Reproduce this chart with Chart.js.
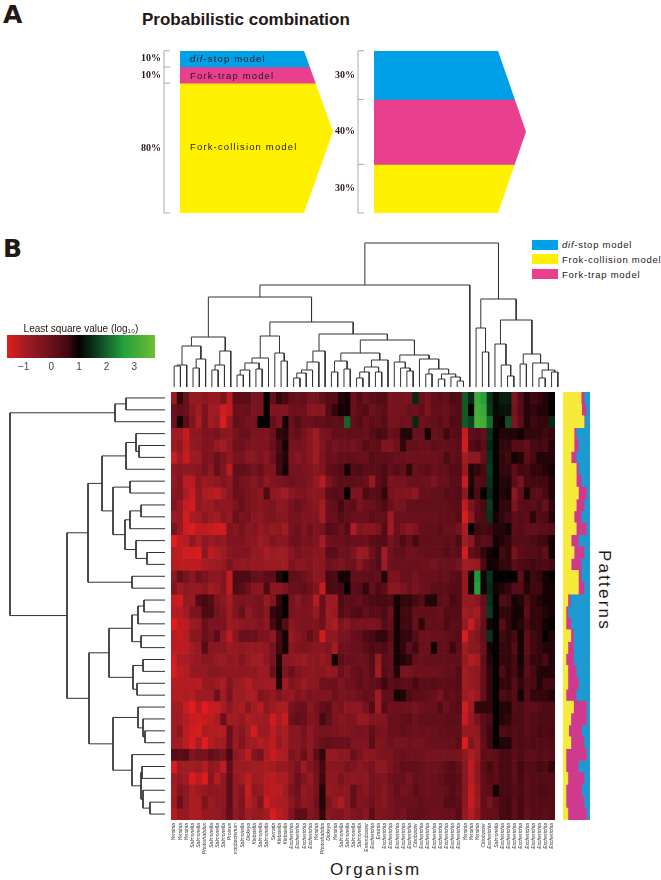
<!DOCTYPE html>
<html>
<head>
<meta charset="utf-8">
<script src="https://cdn.jsdelivr.net/npm/chart.js@4/dist/chart.umd.min.js"></script>
<style>
  html, body { margin: 0; padding: 0; background: #fff; }
  body { position: relative; width: 661px; height: 880px; overflow: hidden; font-family: "Liberation Sans", sans-serif; color: #231815; }
  canvas { position: absolute; }
  #heat { filter: blur(.4px); }
  .txt { position: absolute; white-space: nowrap; line-height: 1; }
  .model { font-size: 9.5px; letter-spacing: 1.15px; }
  .key { font-size: 9.5px; letter-spacing: .75px; }
  .swatch { position: absolute; left: 532px; width: 26px; height: 10px; }
</style>
</head>
<body>
<div class="txt" style="left:3px;top:0px;font:bold 25px 'DejaVu Sans'">A</div>
<div class="txt" style="left:3px;top:234px;font:bold 25px 'DejaVu Sans'">B</div>
<div class="txt" style="left:142px;top:11px;font-weight:bold;font-size:17px">Probabilistic combination</div>

<canvas id="shapeLeft" width="195" height="175" style="left:140px;top:45px"></canvas>
<canvas id="shapeRight" width="193" height="175" style="left:335px;top:45px"></canvas>
<div class="txt model" style="left:190px;top:54px"><i>dif</i>-stop model</div>
<div class="txt model" style="left:190px;top:71px">Fork-trap model</div>
<div class="txt model" style="left:190px;top:142px">Fork-collision model</div>

<div class="swatch" style="top:240px;background:#00A0E9"></div>
<div class="swatch" style="top:254px;background:#FFF100"></div>
<div class="swatch" style="top:269px;background:#E83F8F"></div>
<div class="txt key" style="left:562px;top:240px"><i>dif</i>-stop model</div>
<div class="txt key" style="left:562px;top:255px">Frok-collision model</div>
<div class="txt key" style="left:562px;top:270px">Fork-trap model</div>

<canvas id="colorbar" width="170" height="60" style="left:0;top:320px"></canvas>
<canvas id="topTree" width="390" height="147" style="left:171px;top:240px"></canvas>
<canvas id="leftTree" width="165" height="428" style="left:0;top:392px"></canvas>
<canvas id="heat" width="390" height="462" style="left:171px;top:392px"></canvas>
<canvas id="patterns" width="27" height="428" style="left:563px;top:392px"></canvas>

<div class="txt" style="left:330px;top:861px;font-size:17px;letter-spacing:2.2px">Organism</div>
<div class="txt" style="left:613px;top:550px;font-size:17px;letter-spacing:2.2px;transform-origin:0 0;transform:rotate(90deg)">Patterns</div>

<script>
// panel A
const modelNames = ["dif-stop model", "Fork-trap model", "Fork-collision model"];
const sharesLeft = [10, 10, 80];
const sharesRight = [30, 40, 30];

// panel B, columns
const organisms = ["Yersinia","Yersinia","Yersinia","Salmonella","Salmonella","Photorhabdus","Salmonella","Salmonella","Salmonella","Proteus",
  "Pectobacterium","Salmonella","Dickeya","Klebsiella","Salmonella","Salmonella","Serratia","Klebsiella","Klebsiella","Escherichia",
  "Escherichia","Escherichia","Escherichia","Yersinia","Photorhabdus","Dickeya","Yersinia","Salmonella","Salmonella","Salmonella",
  "Salmonella","Enterobacter","Escherichia","Erwinia","Escherichia","Escherichia","Escherichia","Escherichia","Escherichia","Citrobacter",
  "Escherichia","Escherichia","Escherichia","Escherichia","Escherichia","Escherichia","Escherichia","Yersinia","Yersinia","Yersinia",
  "Citrobacter","Escherichia","Salmonella","Escherichia","Escherichia","Escherichia","Escherichia","Escherichia","Escherichia","Escherichia",
  "Escherichia","Escherichia"];

// least square values, first 33 columns
const heatLeft = [
[-.8,.7,0,-.7,-.7,-.6,-.7,-.7,-.3,-1.1,.2,.2,.2,-.3,-.2,1,.1,.7,.5,.1,0,.1,-.2,-.2,.1,.3,.3,.8,.9,0,.3,0,.2],
[0,.1,0,-.5,-.9,-.3,-.9,-.9,-1.4,-1.2,0,-.1,0,-.3,-.2,1,-.4,-.4,-.4,-.1,-.1,-.1,-.5,-.5,-.5,.3,.7,.9,.9,0,.2,.3,-.1],
[-.1,.9,.2,-.4,-1,-.2,-.9,-.7,-1.5,-.7,.1,0,-.2,-.2,1,1,.1,-.3,.9,0,.3,0,0,.1,.1,.2,.1,.2,2,.1,.3,0,.2],
[-.9,-.9,-1.3,-.6,-.6,-.4,-.4,-.2,-.5,-.6,-.2,0,0,-.3,-.3,-.4,0,.7,.8,-.1,.1,-.2,-.5,-.8,-.3,-.2,.1,.1,.1,.1,.1,0,.3],
[-.8,-.6,-1.2,-.7,-.6,-.4,-.4,-.7,-.9,-.6,-.1,-.1,-.3,-.4,-.4,-.3,0,.5,.9,-.2,-.2,-.3,-.5,-.8,-.4,0,-.2,-.1,-.1,-.2,0,.3,.1],
[-1.4,-.8,-1.3,-.8,-.8,-.3,-.4,0,-.3,-.6,-.3,-.2,-.5,-.5,-.3,-.5,-.1,.6,.8,-.3,-.5,-.3,-.5,-.9,-.3,0,-.1,.1,.1,.1,0,0,.3],
[-.6,-.5,-.6,-.6,-.5,-.2,-.6,.1,-.4,-1.1,.1,.1,0,-.2,0,-.4,-.4,.6,.9,-.2,-.2,-.3,-.4,-.5,-.4,.1,.2,.3,.9,.3,.4,.2,.2],
[-.7,-.4,-1.2,-1.1,-.5,-.8,-.7,-.6,-.4,-.6,0,-.2,-.3,-.5,-.2,-.6,-.4,-.3,-.2,-.1,-.2,-.2,-.4,-.7,-1.1,-.3,0,.2,.2,.2,.1,0,-.7],
[-.5,-.4,-1,-1.3,-.6,-1,-1.1,-1.2,-.9,-.5,0,-.1,-.3,-.4,-.5,.4,-.6,-.7,-.9,-.5,-.4,-.4,-.5,-.6,-.5,.2,.3,.2,1,-.3,-.3,.4,.2],
[-.4,-.7,-1.3,-1.4,-.6,-.8,-.8,-.5,-.6,-.6,-.3,0,-.3,-.4,-.5,-.4,-.3,-.6,-.5,-.2,0,-.2,-.4,-.5,-.9,0,.1,.5,.1,.2,-.3,-.1,0],
[-.8,-.7,-1.4,-1,-.9,-.6,-.8,-.9,-.5,-.7,0,-.3,-.2,-.5,-.6,-.4,-.3,-.5,-.5,-.2,-.2,-.4,-.4,-.4,-.9,0,0,.3,.1,0,0,0,.2],
[-.2,-.7,-1.4,-1.5,-1.2,-1.2,-1.3,-1.4,-1.4,-.4,-.5,-.2,-.5,-.4,-.7,-.5,-.7,-.6,-.9,-.2,-.1,-.4,-.1,-.4,-.2,.3,.2,0,.3,-1,-.4,-.5,-.5],
[-1.6,-1.2,-1.1,-.6,-1,-.6,-.8,-.6,-.7,-.4,-.4,-.4,-.5,-.5,-.8,-.7,-.4,-.5,-.5,-.1,-.1,-.3,-.2,-.4,-.9,-.1,0,0,.1,0,0,-.1,.2],
[-1.1,-1.2,-1.4,-1.4,-1.5,-.6,-1.2,-1,-.8,-.5,-.4,-.4,-.4,-.7,-.7,-1,-.8,-.9,-.8,-.5,-.2,-.4,-.4,-.5,-.5,.2,.2,-.1,0,-.3,-.8,-.7,-.1],
[-1.1,-1.2,-1.2,-1.2,-1.2,-1,-.9,-.8,-.7,-.3,-.6,-.7,-.6,-.7,-.7,-.8,-.8,-.8,-.9,-.3,-.5,-.5,-.4,-.6,-.5,-.1,-.2,-.3,-.1,-.1,-.5,-.1,.1],
[-.6,.1,-.2,-.5,-.1,-.3,-.5,-.6,-.4,-1.2,.4,.4,.4,.1,0,.2,.2,.8,1,.1,.1,-.1,-.3,-.6,-.5,.5,.4,.9,.9,.1,.1,.1,.2],
[-.4,-.8,-.6,-.7,-.7,-.5,-.9,-.7,-.4,-1.2,.4,.2,-.1,-.5,-.5,.4,-.5,-.5,-.3,0,0,.1,-.1,-.4,-1.3,.5,.4,.5,1,.2,.3,.7,.1],
[-1.3,-1.4,-.7,-.7,.3,.5,.3,-.3,-.5,-.9,-.4,-.3,-.4,-.3,-.2,-.7,-.4,.7,1,-.2,-.5,-.2,-.3,-1.1,0,-.8,-.8,.4,.2,.2,.1,.3,.4],
[-1.1,-1.1,-.9,-.3,-.3,.4,.4,-.2,-.4,-.8,-.4,0,-.6,-.3,-.2,-.5,.7,.8,1,-.2,-.4,-.3,-.4,-.7,0,-.9,-.7,.3,.1,.3,.4,.1,.3],
[-1.6,-1.2,-1.2,-.8,-.7,0,-.3,-.3,-.3,-.8,-.7,-.6,-.5,-.5,-.4,-.6,.5,.8,.3,-.5,-.4,-.3,-.3,-.4,-.1,-.8,-1,-.3,-.5,-.2,-.3,-.2,-.3],
[-1.1,-1.3,-1.1,-.5,-.5,0,-.2,.2,-.6,-1.2,-.5,0,0,0,-.3,-.3,-.6,.5,.9,-.7,-.5,-.3,.1,-.3,-1.4,-.6,-.6,-.3,-.2,0,.1,.4,.5],
[-1.2,-1.2,-1.2,-.9,-.7,.3,-.5,-.5,-.5,-.8,-.7,-.6,-.7,-.7,-.7,-.6,-.2,.6,.9,-.5,-.4,-.3,-.4,-.5,-.5,-.4,-.9,-.1,-.1,0,0,.2,.4],
[-1.4,-1,-1,-.8,-.7,-.5,-.5,-.7,-.8,-.6,-.7,-.4,-.7,-.9,-.9,-.6,-.2,.8,-.5,-.6,-.7,-.8,-.6,-.5,-.7,-.5,.9,.2,0,0,-.1,0,.3],
[-1.5,-1.2,-1.1,-.7,-.7,-.7,-.5,-.5,-.6,-.6,-.6,-.6,-.6,-.6,-.8,-.8,0,.9,-.4,0,-.4,-.5,-.6,-.5,-.5,-.7,-.6,0,-.3,0,.1,-.1,.2],
[-1.1,-1.1,-1.1,-1.1,-1.2,-.7,-.7,-.8,-1,-.4,-.8,-.9,-1.1,-.8,-.8,-.9,-.9,.8,-.9,-.4,-.5,-.8,-.6,-.5,-.1,-.1,-.1,-.4,-.1,-.1,.1,-.1,.1],
[-1.1,-1.1,-1,-1.1,-.8,-.8,-.8,-.1,-.9,-.3,-.9,-.8,-1,-1,-.4,-.5,-.7,-.4,-.6,-.7,-.4,-.5,-.3,-.4,-.4,-.4,-.1,-.3,-.2,-.2,-.1,.1,0],
[-.9,-.9,-1.3,-1.6,-1.1,-1.6,-1.3,-1.3,-1,-.6,-.9,-1,-.5,-.9,-1.1,-.6,-.8,-1,-1,-.2,-.1,0,-.5,-.2,.1,.2,-.4,-.2,-.6,-.6,-.6,-.2,.3],
[-.8,-.9,-1.1,-1.3,-1.4,-1.3,-1.2,-1,0,-.9,-.9,-.7,-1,-.9,-.9,-.8,-1.4,-1,-1.3,-.1,.1,0,-.4,-.3,.5,.1,-.3,-.5,-.4,-.4,-.7,-.7,-.4],
[-.9,-.5,-1.2,-1.4,-1.5,-1,-1.1,-1.1,-1.1,0,-.7,-.5,-.9,-1.4,-.8,-.8,-1.2,-.9,-1,-.5,-.5,-.2,-.6,-.3,-.2,-.2,-.3,-.4,-.4,-.3,-.2,-.3,.1],
[-.9,-.9,-1.2,-1.5,-1,-1.6,-1.1,-.9,-.9,0,-.8,-.4,-.8,-.9,-1.1,-1,-1.2,-.7,-1,-.5,-.5,-.3,-.6,-.2,0,.1,0,0,0,-.4,-.4,-.4,.2],
[.3,.2,.3,-.4,-.2,-.2,.1,-.1,-.2,.5,-.6,-.8,-1.2,-.4,-.2,-1,-1.3,-1.1,-1,-.3,-.5,0,-.6,.2,.7,-.7,-.7,-.5,-.6,0,-.3,-.6,-.5],
[-1.5,-.8,-.9,-.9,-.8,-1.1,-.6,-.7,-1.2,.1,-.8,-.8,-.8,-.9,-.9,-1,-.9,-.7,-.7,-.5,-.2,-.8,-.4,-.1,.5,-.5,-.5,-.5,-.2,-.4,-.5,-.4,-.2],
[-.9,-.7,-.9,-1.5,-1.2,-1.5,-.5,-1.1,-.6,.2,-.7,-.9,-1.2,-.8,-.9,-1.1,-1.2,-1,-1,-.5,0,-.4,-.7,-.2,.6,-.6,-.6,-.3,-.5,-.6,-.5,-.6,-.2],
[-1,-.4,-.6,-1,-.8,-.7,-.6,-.6,-.6,.2,-.7,-.4,-1.3,-.6,-.7,-1.1,-1.2,-1.2,-.9,-.3,-.1,-.7,-.5,-.2,.8,-.7,-.6,-.5,-.6,.1,-.3,-.5,-.2],
[-.9,0,-.6,-1,-1,-.3,-.8,-.6,-.6,.2,-.7,-.3,-1.2,-.9,-.3,-1.4,-1.1,-1,-1,-.6,-.2,-.6,-.5,-.1,.8,-.3,-.7,-1,-.5,.1,-.4,-.3,-.1],
[-1.1,-.7,-.7,-1,-1,-.7,-.7,-.7,-.5,.1,-.6,-.4,-.9,-.7,-.7,-.9,-1.5,-1.2,-1,-.4,.2,.2,-.4,-.2,.7,-.5,-.4,-.4,-.6,-.4,-.3,-.5,.2]
];

// last 29 columns
const heatRight = [
[.3,.3,-.3,-.2,-.2,-.2,1.4,0,-.2,.1,.2,.1,.4,.3,1.9,1.4,3,2.6,1.5,1.1,1.3,1.3,-.3,.3,.8,.6,.7,.8,1],
[.1,.2,-.3,-.2,-.2,0,-.1,.1,-.3,.1,.1,0,.2,.3,1.9,1,3.1,2.9,1.6,1.1,1.2,1.2,-.2,.3,.8,.7,.8,.8,1],
[.1,.3,-.2,-.2,-.1,-.1,1.4,-.1,0,.1,.2,0,.4,.3,1.9,1.7,3.2,3.1,2.1,.9,1,1.8,-.3,.2,.8,.6,.7,.7,1.4],
[.5,.4,0,.1,.8,.8,0,0,.9,0,.1,.6,.2,.3,-1.3,.2,.3,.1,1.5,1,.8,.8,.8,.9,.7,.7,.7,.6,.7],
[.2,-.4,-.4,-.1,.7,.1,.1,0,0,.2,.1,.1,.1,.2,-1.4,.3,.5,.2,1.4,1,.7,.7,.3,.3,.1,.5,.6,.5,.8],
[.2,.2,.1,0,0,-.1,-.1,-.1,-.1,-.1,0,.4,.1,.2,-.9,-.6,-.6,.1,1.5,1,.7,.6,.9,.8,.2,.5,.8,.8,.8],
[.2,.4,.1,.3,.1,.7,0,.1,.2,0,.1,.1,.3,.3,-.7,.8,.7,.5,1.6,1,.7,.7,.2,.6,.5,.7,.7,.8,.9],
[.2,.4,-.3,-.2,-.2,0,0,-.1,-.1,-.3,0,0,.2,.2,-1.3,.8,.3,.4,1.5,1,.8,.8,.2,-.2,.5,.6,.6,.6,.8],
[.3,.7,-.2,-.4,-.4,-.4,-.6,0,0,.1,.1,.3,.2,.3,-.6,.9,.4,1,1.4,1,.8,.9,-.5,.1,.9,.3,.2,.5,.8],
[.2,.4,0,-.3,-.2,.1,.1,.1,.1,.1,.1,.1,.2,.2,-1.2,-.3,.2,.5,1.6,1,.7,.7,-.3,.2,.3,.2,.4,0,.7],
[.1,.1,-.8,0,0,0,0,0,0,0,.1,.1,.1,.3,-1.5,-.6,.3,.4,1.5,.9,.7,.6,.2,.3,.2,.7,.3,.4,.8],
[-.3,.3,-.9,0,-.3,-.5,-.4,0,.1,.1,.2,0,0,-.2,-1,1,.6,.5,.6,.8,.8,.9,.2,.3,.1,.1,.2,.2,.3],
[.3,.3,-.2,0,.4,.1,.5,.1,.1,.1,.1,.2,.1,.4,-.9,-.5,.4,.2,.3,.9,.8,.7,.3,.3,.3,.4,.6,.6,.9],
[.3,-.9,-.1,.1,.1,-.1,-.1,0,.1,.1,.1,.3,.1,.2,-1.4,.1,.3,.7,.9,1,.6,.7,-.2,.2,.3,.3,.4,.1,.9],
[.3,-.8,-.1,0,0,0,0,-.1,-.1,-.2,0,0,0,-.2,-.9,-.8,-.7,.5,.9,.9,.7,.7,.2,.4,.5,.6,.5,.4,.6],
[.1,.8,-.3,-.3,0,0,-.2,0,0,0,.1,0,.2,.3,-.7,.9,2.5,.9,1.5,1,1,1,1,.2,.9,.6,.7,.9,1],
[.4,.2,-.5,-.5,-.3,-.1,-.3,-.1,0,.2,.2,.2,.3,.3,-.7,.9,2.6,.9,1.4,.9,.8,.7,.3,.3,.8,.6,.6,.9,.9],
[.5,.5,.4,.9,.7,.7,.5,.3,.8,.8,.2,.1,.5,.3,-.7,-.7,-.5,.1,1.5,1,.4,.5,.9,.8,.4,.7,.8,.9,.9],
[.2,.4,0,.9,.6,.6,.1,.1,.1,.1,0,.3,.3,.3,-.9,-.7,-.9,0,1.6,1,.7,.7,.9,.9,.2,.7,.7,.8,.9],
[-.2,.3,.1,.9,.6,.6,0,.7,.1,.1,.1,.4,.2,.2,-.7,-1.3,-.6,.1,.9,1,.3,.7,.9,.8,.5,.7,.7,.9,1],
[.7,.7,.3,.9,.7,.7,.3,-.1,-.1,0,0,.1,.2,.3,-1.5,-.6,-.4,.1,1.5,1,.6,.7,.5,.9,.2,.6,.7,1,.8],
[.3,.4,.1,.9,.7,.2,.6,0,-.1,.9,.1,.1,.6,.2,-.9,-.5,-.5,0,.9,1,.7,.7,.3,.9,.2,.6,.7,.8,.8],
[-.7,.2,.1,.9,.8,.7,.1,0,.1,.1,.1,.1,.1,.1,-.7,-1.1,-.9,.1,.8,1,.7,.7,.5,.9,.3,.7,.7,.5,.8],
[-.9,.3,.1,.8,-.2,-.2,-.1,-.1,-.1,-.1,0,.1,.1,.3,-.9,-.7,-.6,.1,.7,1,.4,.7,.5,.8,.2,.5,.8,.8,.8],
[.2,.6,.2,.3,.2,.2,.5,.2,.2,.3,.2,.2,.2,.3,-.9,-.7,-.6,.1,.7,1,.7,.7,.3,.7,.4,.5,.8,.6,.6],
[-.8,.1,.1,.9,.8,.4,.2,.2,.1,0,-.2,.2,.1,.2,-.8,-1,-.7,.1,.7,1,.4,.6,.3,.9,.3,.7,.7,.7,.8],
[-.9,.3,-.1,-.1,-.1,-.1,-.2,-.1,0,0,.3,-.1,.2,.3,-1.4,-.8,.7,.7,.7,1,.8,.8,.3,.4,.2,.2,.3,.4,.4],
[-.4,-.4,0,0,.1,.2,-.1,.1,.1,.1,.1,.2,.2,.1,-1.3,-.7,-.2,.2,.4,1,.8,.7,.4,.4,.2,.3,.4,.4,.4],
[-.2,-.3,0,0,.1,0,-.1,0,-.1,0,.1,.1,.1,.1,-.7,-.7,-.6,.2,.6,1,.4,.5,.3,.4,.2,.3,.5,.4,.5],
[-.4,-.3,-.1,-.2,-.2,-.1,-.2,-.2,-.1,0,0,0,0,.2,-1.5,-.4,-.7,.1,.6,1,.8,.8,.3,.4,.3,.4,.3,.3,.4],
[-.4,-.3,-.3,-.1,0,-.1,-.1,-.1,-.2,-.2,-.2,-.2,-.2,-.3,-.6,-1,-.7,.2,.1,.2,.5,.5,.2,.4,.2,.2,.3,.2,.3],
[-.6,-.6,-.3,-.1,.1,.1,.1,0,-.1,-.1,0,.2,.3,.1,-.5,-1.2,-.6,.2,.5,.2,.5,.5,.2,.6,.3,.3,.5,.4,.7],
[-.3,-.4,-.1,0,0,-.2,.1,0,-.1,0,.1,.3,.3,.2,-.5,-1.1,-.6,.1,.3,.2,.5,.5,.2,.5,.2,.3,.3,.3,.3],
[-.3,-.5,-.2,.1,-.2,-.1,.2,0,-.1,0,0,.1,.3,.1,-.5,-1.3,-.7,.1,.2,.9,.5,.5,.3,.4,.2,.3,.4,.4,.3],
[-.4,-.5,-.2,-.1,0,0,0,.1,0,0,0,.3,.3,.2,-.6,-1.3,-.8,.1,-.2,.2,.5,.6,.2,.5,.2,.3,.3,.3,.3],
[-.4,-.3,-.2,-.1,-.2,.1,.1,.1,0,-.1,0,0,0,.3,-.7,-1.1,-.6,0,.1,.1,.5,.6,.2,.5,.1,.3,.3,.2,.3]
];

// model share of every row (patterns strip), percent
const collisionShare = [67,69,78,41,41,30,49,49,57,49,41,49,30,41,30,57,57,18,11,11,29,18,11,18,18,11,39,29,21,29,11,11,18,11,11,18];
const trapShare = [11,16,1,8,16,19,8,18,30,29,26,38,27,37,37,10,21,9,7,18,10,21,28,31,39,38,48,58,48,49,76,46,60,58,67,69];
const stopShare = [22,15,21,51,43,51,43,33,13,22,33,13,43,22,33,33,22,73,82,71,61,61,61,51,43,51,13,13,31,22,13,43,22,31,22,13];

// dendrograms, node = [height, child, child], 0 = leaf
const columnTree = [144,
  [102,
    [90,
      [50,
        [41, [22, [21,0,0], 0], [28, [19,0,0], 0]],
        [36, [22, [17,0,0], 0], 0]],
      [65,
        [51,
          [29, [24, [17, [12,0,0], 0], [18,0,0]], 0],
          [34, 0, [26,0,0]]],
        [53,
          [36, [25, [17, [14, [9,0,0], 0], 0], 0], 0],
          [47,
            [34,
              [26, [15,0,0], [18,0,0]],
              [27, [20, [15, [9,0,0], 0], [15,0,0]], 0]],
            [32,
              [25, 0, [19, 0, [16,0,0]]],
              [28, 0, [18, [13,0,0], [13, [8,0,0], [10, 0, [6,0,0]]]]]]]]]],
    0],
  [88,
    [59, 0, [35,0,0]],
    [67,
      [43, 0, [22, 0, [11,0,0]]],
      [33, [23,0,0], [24, 0, [17, [9,0,0], [15,0,0]]]]]]];

const rowTree = [155,
  [50, [39,0,0], 0],
  [98,
    [77,
      [63,
        [39, [29, 0, [26,0,0]], 0],
        [52, [35,0,0], [40, [35, [24,0,0], 0], [29, 0, [18,0,0]]]]],
      [33,0,0]],
    [76,
      [56,
        [33, [27, [21,0,0], 0], [24,0,0]],
        [32, [22,0,0], [28,0,0]]],
      [52,
        [27, 0, [22, 0, [20,0,0]]],
        [33, 0, [24, [23,0,0], [22, 0, [15,0,0]]]]]]]];

// colour scale
const heatStops = [[-1.6,[226,28,28]], [-.9,[160,28,35]], [0,[105,16,28]], [.6,[66,8,16]], [1,[5,0,0]], [1.6,[10,58,30]], [2.6,[35,160,60]], [3.75,[110,190,50]]];
const colorbarTicks = [-1, 0, 1, 2, 3];

const BLUE = "#00A0E9", PINK = "#E83F8F", YELLOW = "#FFF100";
const INK = "#231815";

Chart.defaults.animation = false;
Chart.defaults.responsive = false;
Chart.defaults.events = [];
Chart.defaults.plugins.legend.display = false;
Chart.defaults.plugins.tooltip.enabled = false;
Chart.defaults.font.family = "'Liberation Sans', sans-serif";

function heatColor(v) {
  let i = 0;
  while (i < heatStops.length - 2 && v > heatStops[i + 1][0]) i++;
  const [v0, c0] = heatStops[i], [v1, c1] = heatStops[i + 1];
  const t = Math.max(0, Math.min(1, (v - v0) / (v1 - v0)));
  return `rgb(${c0.map((c, k) => Math.round(c + (c1[k] - c) * t)).join(",")})`;
}

// panel A: stacked bar clipped to an arrow, with bracket and % labels from the y scale
function arrowPlugin(shares, notch) {
  return {
    id: "arrow",
    beforeDatasetsDraw(chart) {
      const { ctx, chartArea: a } = chart;
      ctx.save();
      ctx.beginPath();
      ctx.moveTo(a.left, a.top);
      ctx.lineTo(a.right - notch, a.top);
      ctx.lineTo(a.right, (a.top + a.bottom) / 2);
      ctx.lineTo(a.right - notch, a.bottom);
      ctx.lineTo(a.left, a.bottom);
      ctx.closePath();
      ctx.clip();
    },
    afterDatasetsDraw(chart) {
      const { ctx, chartArea: a, scales } = chart;
      ctx.restore();
      ctx.save();
      ctx.strokeStyle = "#aaa";
      ctx.lineWidth = 1;
      ctx.beginPath();
      ctx.moveTo(a.left - 10, a.top);
      ctx.lineTo(a.left - 16, a.top);
      ctx.lineTo(a.left - 16, a.bottom);
      ctx.lineTo(a.left - 10, a.bottom);
      let sum = 0;
      shares.forEach((s, i) => {
        sum += s;
        if (i < shares.length - 1) {
          ctx.moveTo(a.left - 16, scales.y.getPixelForValue(sum));
          ctx.lineTo(a.left - 10, scales.y.getPixelForValue(sum));
        }
      });
      ctx.stroke();
      ctx.fillStyle = INK;
      ctx.font = "bold 10px 'Liberation Serif'";
      ctx.textAlign = "right";
      ctx.textBaseline = "middle";
      sum = 0;
      shares.forEach(s => {
        ctx.fillText(s + "%", a.left - 19, scales.y.getPixelForValue(sum + s / 2));
        sum += s;
      });
      ctx.restore();
    }
  };
}

function arrowChart(id, shares, paddingLeft, notch) {
  const colors = [BLUE, PINK, YELLOW];
  new Chart(document.getElementById(id), {
    type: "bar",
    data: {
      labels: [""],
      datasets: shares.map((s, i) => ({ label: modelNames[i], data: [s], backgroundColor: colors[i], barPercentage: 1, categoryPercentage: 1 }))
    },
    options: {
      layout: { padding: { left: paddingLeft, right: 2, top: 5.7, bottom: 7 } },
      scales: {
        x: { stacked: true, display: false },
        y: { stacked: true, display: false, min: 0, max: 100, reverse: true }
      }
    },
    plugins: [arrowPlugin(shares, notch)]
  });
}
arrowChart("shapeLeft", sharesLeft, 40, 29);
arrowChart("shapeRight", sharesRight, 39, 28);

// colour key
new Chart(document.getElementById("colorbar"), {
  type: "bar",
  data: {
    labels: [""],
    datasets: [{
      data: [[heatStops[0][0], heatStops[heatStops.length - 1][0]]],
      barPercentage: 1,
      categoryPercentage: 1,
      backgroundColor(c) {
        const a = c.chart.chartArea;
        if (!a) return "#000";
        const g = c.chart.ctx.createLinearGradient(a.left, 0, a.right, 0);
        const lo = heatStops[0][0], hi = heatStops[heatStops.length - 1][0];
        heatStops.forEach(([v]) => g.addColorStop((v - lo) / (hi - lo), heatColor(v)));
        return g;
      }
    }]
  },
  options: {
    indexAxis: "y",
    layout: { autoPadding: false, padding: { left: 7, right: 15 } },
    plugins: {
      title: { display: true, text: "Least square value (log₁₀)", color: INK, font: { size: 10, weight: "normal" }, padding: { top: 3, bottom: 0 } }
    },
    scales: {
      y: { display: false },
      x: {
        min: heatStops[0][0],
        max: heatStops[heatStops.length - 1][0],
        grid: { display: false, drawTicks: false },
        border: { display: false },
        afterBuildTicks(s) { s.ticks = colorbarTicks.map(value => ({ value })); },
        afterFit(s) { s.height = 22; },
        ticks: { color: "#444", font: { size: 10 }, padding: 3, callback: v => (v < 0 ? "−" + Math.abs(v) : v) }
      }
    }
  }
});

// dendrograms
function treeSegments(node, segs, counter) {
  if (node === 0) return [counter.i++ + 0.5, 0];
  const [h, a, b] = node;
  const [pa, ha] = treeSegments(a, segs, counter);
  const [pb, hb] = treeSegments(b, segs, counter);
  segs.push([[pa, ha], [pa, h], [pb, h], [pb, hb]]);
  return [(pa + pb) / 2, h];
}

function treeChart(id, tree, toPoint, scales) {
  const segs = [];
  treeSegments(tree, segs, { i: 0 });
  new Chart(document.getElementById(id), {
    type: "scatter",
    data: {
      datasets: segs.map(s => ({
        data: s.map(toPoint),
        showLine: true,
        pointRadius: 0,
        borderColor: "#333",
        borderWidth: 1,
        clip: false
      }))
    },
    options: { layout: { autoPadding: false }, scales }
  });
}
treeChart("topTree", columnTree, ([p, h]) => ({ x: p, y: h }), {
  x: { display: false, min: 0, max: organisms.length },
  y: { display: false, min: 0, max: 147 }
});
treeChart("leftTree", rowTree, ([p, h]) => ({ x: h, y: p }), {
  x: { display: false, min: 0, max: 165, reverse: true },
  y: { display: false, min: 0, max: heatLeft.length, reverse: true }
});

// heat map: floating bars, one dataset per row
new Chart(document.getElementById("heat"), {
  type: "bar",
  data: {
    labels: organisms,
    datasets: heatLeft.map((row, r) => {
      const values = row.concat(heatRight[r]);
      return {
        data: values.map(() => [r, r + 1]),
        backgroundColor: values.map(heatColor),
        barPercentage: 1,
        categoryPercentage: 1,
        grouped: false
      };
    })
  },
  options: {
    layout: { autoPadding: false },
    scales: {
      y: { display: false, min: 0, max: heatLeft.length, reverse: true },
      x: {
        grid: { display: false, drawTicks: false },
        border: { display: false },
        afterFit(s) { s.height = 34; },
        ticks: { autoSkip: false, minRotation: 90, maxRotation: 90, padding: 3, color: "#333", font: { size: 5, style: "italic" } }
      }
    }
  }
});

// strip right of the heat map
const stripColors = ["#F6EB3B", "#CF3A8E", "#1E9AD2"];
new Chart(document.getElementById("patterns"), {
  type: "bar",
  data: {
    labels: collisionShare.map((_, i) => i + 1),
    datasets: [collisionShare, trapShare, stopShare].map((d, i) => ({
      data: d, backgroundColor: stripColors[i], barPercentage: 1, categoryPercentage: 1
    }))
  },
  options: {
    indexAxis: "y",
    layout: { autoPadding: false },
    scales: {
      x: { stacked: true, display: false, min: 0, max: 100 },
      y: { stacked: true, display: false }
    }
  }
});
</script>
</body>
</html>
